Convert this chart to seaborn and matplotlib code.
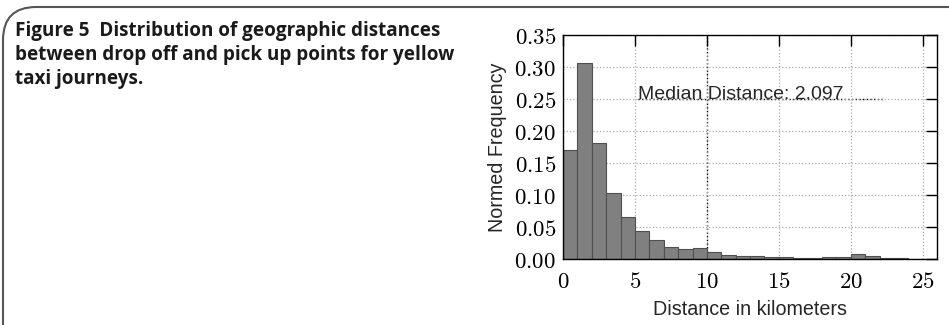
import numpy as np
import pandas as pd
import matplotlib
matplotlib.use('Agg')
import matplotlib.pyplot as plt
import matplotlib.ticker as mticker
from matplotlib.patches import FancyBboxPatch
import seaborn as sns

# histogram: 1 km bins, normed frequency
bin_left = [0, 1, 2, 3, 4, 5, 6, 7, 8, 9, 10, 11, 12, 13, 14, 15, 16, 17, 18, 19, 20, 21, 22, 23, 24]
freq = [0.171, 0.306, 0.182, 0.103, 0.065, 0.043, 0.030, 0.018, 0.015, 0.017, 0.011, 0.0065,
        0.0043, 0.0043, 0.0032, 0.0027, 0.0022, 0.0022, 0.0027, 0.0037, 0.0074, 0.0053, 0.0016, 0.001, 0.0002]
median_dist = 2.097
caption = ['Figure 5  Distribution of geographic distances',
           'between drop off and pick up points for yellow',
           'taxi journeys.']

df = pd.DataFrame({'dist': np.array(bin_left) + 0.5, 'freq': freq})
edges = list(bin_left) + [bin_left[-1] + 1]

sns.set_style('white')
plt.rcParams['mathtext.fontset'] = 'cm'
plt.rcParams['font.family'] = ['Liberation Sans', 'DejaVu Sans']

fig = plt.figure(figsize=(9.49, 3.25), dpi=100)
ax = fig.add_axes([0.5933, 0.2031, 0.3941, 0.6892])

sns.histplot(data=df, x='dist', weights='freq', bins=edges, ax=ax,
             color='#808080', edgecolor='#505050', linewidth=0.8, alpha=1)

ax.set_xlim(0, 26)
ax.set_ylim(0, 0.35)
ax.set_xticks([0, 5, 10, 15, 20, 25])
ax.set_yticks(np.arange(0, 0.36, 0.05))
ax.xaxis.set_major_formatter(mticker.FuncFormatter(lambda v, p: '$%d$' % v))
ax.yaxis.set_major_formatter(mticker.FuncFormatter(lambda v, p: '$%.2f$' % v))
ax.tick_params(direction='in', length=8, width=1, top=True, right=True,
               labelsize=16.5, colors='black', pad=5)
ax.tick_params(axis='x', pad=8)
ax.grid(True, color='#aaaaaa', linestyle=':', linewidth=0.9)
ax.set_axisbelow(True)
for s in ax.spines.values():
    s.set_color('black')
    s.set_linewidth(1)

# darker dotted guides seen in the original
ax.axvline(10, color='black', linestyle=':', linewidth=1, zorder=0.5)
ax.plot([5.2, 22.3], [0.25, 0.25], color='black', linestyle=':', linewidth=1, zorder=0.5)
ax.text(5.2, 0.25, 'Median Distance: %.3f' % median_dist, fontsize=14,
        va='baseline', ha='left')

ax.set_xlabel('Distance in kilometers', fontsize=14.2, labelpad=5)
ax.set_ylabel('Normed Frequency', fontsize=14.2, labelpad=5)

# caption
for i, line in enumerate(caption):
    fig.text(15 / 949, 1 - (21 + 24 * i) / 325, line, fontsize=13.6, fontweight='bold',
             family=['Open Sans', 'DejaVu Sans'], va='top', ha='left', color='#1a1a1a')

# rounded frame, open at the bottom and right
frame = FancyBboxPatch((3 / 949, -0.2), 2.0, 1.2 - 7 / 325,
                       boxstyle='round,pad=0,rounding_size=0.035',
                       transform=fig.transFigure, fill=False,
                       edgecolor='#555555', linewidth=1.5, mutation_aspect=949 / 325)
fig.patches.append(frame)

fig.savefig('out.png', dpi=100)
